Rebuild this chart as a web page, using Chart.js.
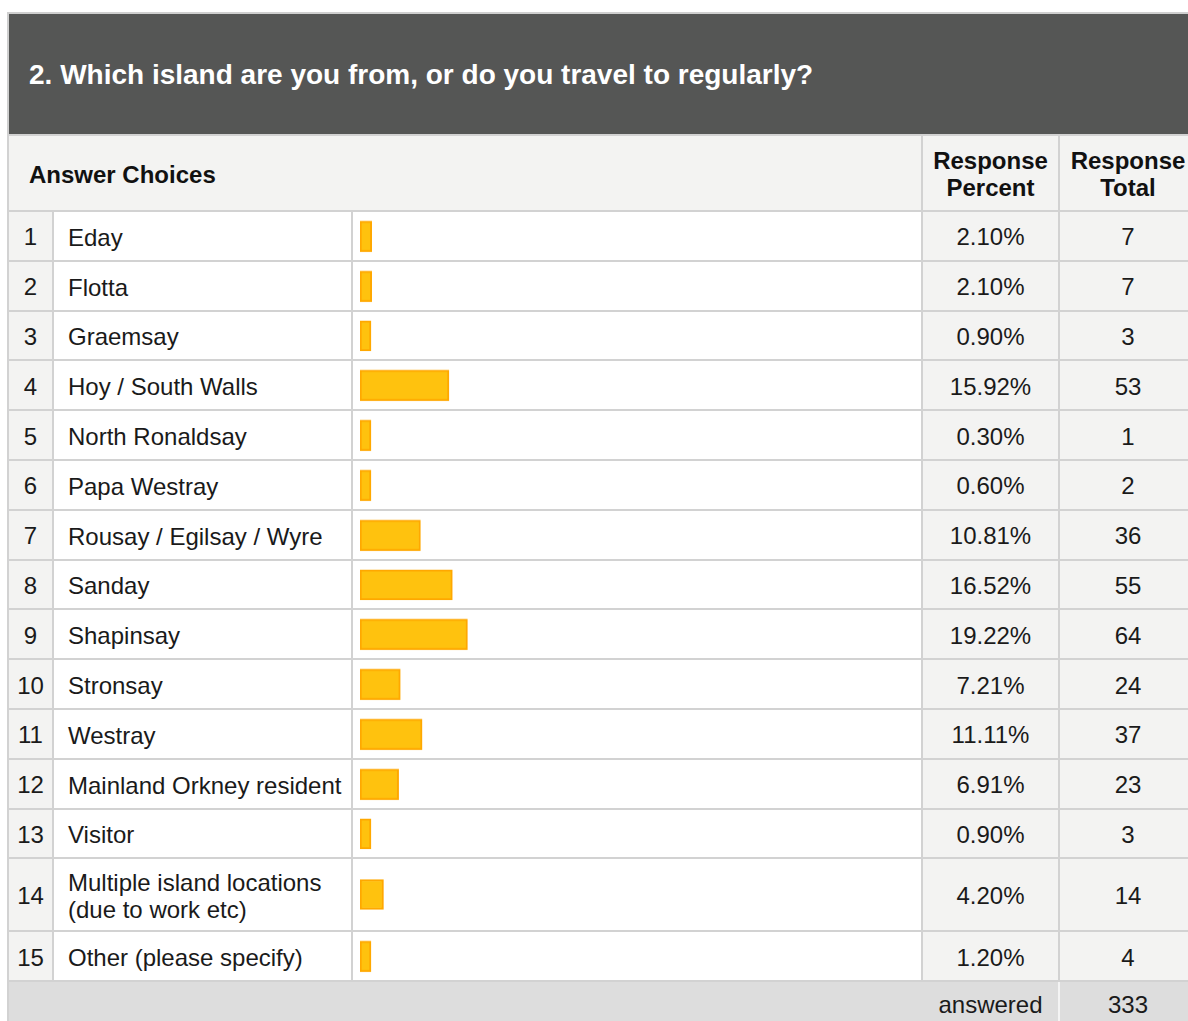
<!DOCTYPE html>
<html>
<head>
<meta charset="utf-8">
<script src="https://cdn.jsdelivr.net/npm/chart.js@4.4.0/dist/chart.umd.min.js"></script>
<style>
    html, body { margin: 0; padding: 0; background: #fff; overflow: hidden; }
    body { width: 1188px; height: 1021px; position: relative; font-family: "Liberation Sans", Arial, sans-serif; color: #1a1a1a; }
    #survey { position: absolute; left: 7px; top: 12px; width: 1190px; }
    .question {
        background: #555655; color: #fff; font-weight: bold; font-size: 28px;
        height: 122px; line-height: 122px; padding-left: 20px;
        border: 2px solid #cfcfcf; border-bottom: none; box-sizing: border-box;
    }
    table { border-collapse: collapse; table-layout: fixed; width: 1189px; font-size: 24px; }
    td, th { border: 2px solid #d2d2d2; padding: 0; }
    th { background: #f3f3f2; font-weight: bold; color: #111; line-height: 27px; padding-top: 2px; }
    th.choices { text-align: left; padding-left: 20px; }
    td.num, td.label, td.pct, td.tot { padding-top: 3px; }
    td.num { background: #f3f3f2; text-align: center; }
    td.label { padding-left: 14px; line-height: 27px; }
    td.pct, td.tot { background: #f3f3f2; text-align: center; }
    td.bar { padding: 0; }
    .barbox { position: relative; width: 568px; }
    tr.footer td { background: #dddddd; text-align: center; height: 48px; vertical-align: top; padding-top: 9px; }
    tr.footer td.blank { border-right: 2px solid #dddddd; }
    tr.footer td.pct { border-right: 2px solid #f4f4f4; }
</style>
</head>
<body>
<div id="survey">
    <div class="question">2. Which island are you from, or do you travel to regularly?</div>
    <table id="grid">
        <colgroup>
            <col style="width:45px"><col style="width:299px"><col style="width:570px"><col style="width:137px"><col style="width:138px">
        </colgroup>
        <thead>
            <tr style="height:76px">
                <th class="choices" colspan="3">Answer Choices</th>
                <th>Response<br>Percent</th>
                <th>Response<br>Total</th>
            </tr>
        </thead>
        <tbody id="rows"></tbody>
    </table>
</div>
<script>
// Antworten aus der Umfrage
const choices = [
    'Eday', 'Flotta', 'Graemsay', 'Hoy / South Walls', 'North Ronaldsay',
    'Papa Westray', 'Rousay / Egilsay / Wyre', 'Sanday', 'Shapinsay', 'Stronsay',
    'Westray', 'Mainland Orkney resident', 'Visitor',
    'Multiple island locations (due to work etc)', 'Other (please specify)'
];
const percents = [2.10, 2.10, 0.90, 15.92, 0.30, 0.60, 10.81, 16.52, 19.22, 7.21, 11.11, 6.91, 0.90, 4.20, 1.20];
const totals = [7, 7, 3, 53, 1, 2, 36, 55, 64, 24, 37, 23, 3, 14, 4];
const answered = 333;

const tbody = document.getElementById('rows');

choices.forEach((choice, i) => {
    const tall = choice.length > 30;
    const rowH = tall ? 73 : 49.8;
    const tr = document.createElement('tr');
    tr.style.height = rowH + 'px';
    tr.innerHTML =
        '<td class="num">' + (i + 1) + '</td>' +
        '<td class="label">' + choice + '</td>' +
        '<td class="bar"><div class="barbox" style="height:' + (rowH - 2) + 'px"><canvas></canvas></div></td>' +
        '<td class="pct">' + percents[i].toFixed(2) + '%</td>' +
        '<td class="tot">' + totals[i] + '</td>';
    tbody.appendChild(tr);

    // ein Balken pro Zeile
    const ctx = tr.querySelector('canvas');
    new Chart(ctx, {
        type: 'bar',
        data: {
            labels: [choice],
            datasets: [{
                data: [percents[i]],
                backgroundColor: '#ffc20e',
                borderColor: '#ffa800',
                borderWidth: 2,
                borderSkipped: false,
                barThickness: 30,
                minBarLength: 11
            }]
        },
        options: {
            indexAxis: 'y',
            responsive: true,
            maintainAspectRatio: false,
            animation: false,
            layout: { padding: { left: 7, right: 2, top: 0, bottom: 0 } },
            plugins: {
                legend: { display: false },
                tooltip: { enabled: false }
            },
            scales: {
                x: { display: false, min: 0, max: 100 },
                y: { display: false }
            }
        }
    });
});

// Fusszeile mit Gesamtzahl
const foot = document.createElement('tr');
foot.className = 'footer';
foot.innerHTML = '<td class="blank" colspan="3"></td><td class="pct">answered</td><td class="tot">' + answered + '</td>';
tbody.appendChild(foot);
</script>
</body>
</html>
